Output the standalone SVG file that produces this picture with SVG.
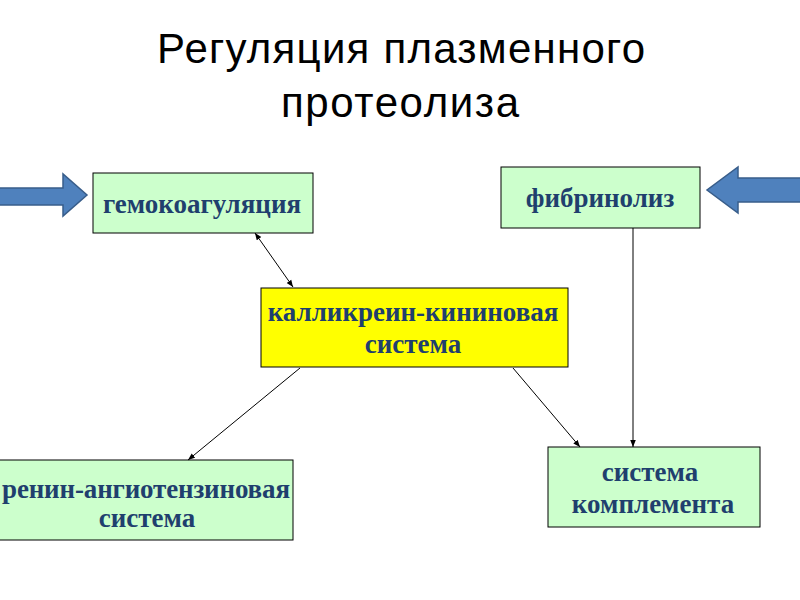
<svg xmlns="http://www.w3.org/2000/svg" width="800" height="600" viewBox="0 0 800 600">
<defs>
<marker id="ah" viewBox="0 0 10 10" refX="10" refY="5" markerWidth="7" markerHeight="7" orient="auto-start-reverse" markerUnits="userSpaceOnUse">
<path d="M0,1 L10,5 L0,9 z" fill="#000"/>
</marker>
<style>
.title{font-family:"Liberation Sans",Arial,sans-serif;font-size:42px;fill:#000;text-anchor:middle}
.box{fill:#ccffcc;stroke:#000;stroke-width:1}
.lbl{font-family:"Liberation Serif","Times New Roman",serif;font-weight:bold;font-size:27px;fill:#1f3f6e;text-anchor:middle}
.conn{stroke:#000;stroke-width:1;fill:none}
.barrow{fill:#4f81bd;stroke:#385d8a;stroke-width:1.5}
</style>
</defs>
<rect width="800" height="600" fill="#fff"/>
<g id="title">
<text class="title" x="401" y="63" textLength="488">Регуляция плазменного</text>
<text class="title" x="400" y="117" textLength="238">протеолиза</text>
</g>
<g id="input-left">
<polygon class="barrow" points="-2,188 63,188 63,174 87,195 63,216 63,205 -2,205"/>
</g>
<g id="input-right">
<polygon class="barrow" points="802,178 738,178 738,167 707,190 738,213 738,202 802,202"/>
</g>
<g id="hemocoagulation">
<rect class="box" x="93" y="173" width="220" height="60"/>
<text class="lbl" x="202" y="213">гемокоагуляция</text>
</g>
<g id="fibrinolysis">
<rect class="box" x="501" y="167" width="199" height="61"/>
<text class="lbl" x="600" y="207">фибринолиз</text>
</g>
<g id="kallikrein">
<rect x="261" y="288" width="307" height="79" fill="#ffff00" stroke="#000" stroke-width="1"/>
<text class="lbl" x="413" y="321">калликреин-кининовая</text>
<text class="lbl" x="413" y="353">система</text>
</g>
<g id="renin">
<rect class="box" x="-1" y="460" width="294" height="80"/>
<text class="lbl" x="146" y="498" textLength="288">ренин-ангиотензиновая</text>
<text class="lbl" x="147" y="527">система</text>
</g>
<g id="complement">
<rect class="box" x="548" y="447" width="212" height="80"/>
<text class="lbl" x="650" y="481">система</text>
<text class="lbl" x="653" y="513">комплемента</text>
</g>
<g id="connectors">
<line class="conn" x1="255" y1="233" x2="293" y2="287" marker-start="url(#ah)" marker-end="url(#ah)"/>
<line class="conn" x1="300" y1="368" x2="188" y2="460" marker-end="url(#ah)"/>
<line class="conn" x1="513" y1="368" x2="580" y2="447" marker-end="url(#ah)"/>
<line class="conn" x1="633" y1="228" x2="633" y2="447" marker-end="url(#ah)"/>
</g>
</svg>
